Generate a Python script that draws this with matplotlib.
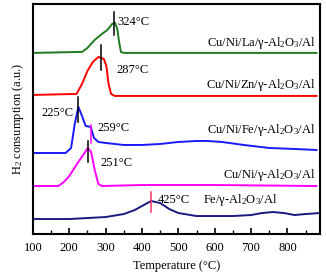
import matplotlib
matplotlib.use("Agg")
import matplotlib.pyplot as plt

plt.rcParams['font.family'] = ['Liberation Serif', 'DejaVu Serif']
plt.rcParams['mathtext.default'] = 'regular'

# Fe/γ-Al2O3/Al
fe_x = [100, 150, 200, 250, 300, 350, 380, 400, 425, 450, 475, 500, 550, 600, 650, 700, 730, 760, 790, 820, 850, 890]
fe_y = [15, 15, 15, 16, 17, 20, 24, 28, 33, 31, 25, 21, 18, 18, 18, 19, 21, 22, 21, 19, 20, 21]

# Cu/Ni/γ-Al2O3/Al
cuni_x = [100, 170, 185, 200, 225, 240, 251, 260, 270, 280, 290, 400, 600, 880]
cuni_y = [48, 48, 52, 58, 72, 80, 86, 82, 64, 50, 48, 49, 49, 48]

# Cu/Ni/Fe/γ-Al2O3/Al
cunife_x = [100, 190, 205, 215, 225, 235, 245, 259, 268, 280, 300, 350, 400, 450, 500, 550, 580, 620, 680, 750, 820, 880]
cunife_y = [81, 81, 86, 110, 127, 118, 108, 107, 96, 92, 91, 89, 89, 90, 92, 93, 93, 92, 89, 86, 85, 84]

# Cu/Ni/Zn/γ-Al2O3/Al
cunizn_x = [100, 220, 235, 250, 265, 280, 295, 302, 308, 315, 325, 880]
cunizn_y = [139, 140, 150, 163, 172, 177, 175, 168, 150, 140, 138, 138]

# Cu/Ni/La/γ-Al2O3/Al
cunila_x = [100, 235, 250, 270, 290, 305, 318, 326, 332, 337, 342, 350, 880]
cunila_y = [181, 182, 186, 194, 200, 204, 210, 211, 205, 192, 182, 181, 181]

series = [
    (fe_x, fe_y, '#1a1a80'),
    (cuni_x, cuni_y, '#ff00ff'),
    (cunife_x, cunife_y, '#1a1aff'),
    (cunizn_x, cunizn_y, '#ff0000'),
    (cunila_x, cunila_y, '#1f7a1f'),
]

# peak markers: (x, y_bottom, y_top, color)
markers = [
    (324, 199, 222, 'black'),
    (287, 164, 189, 'black'),
    (225, 112, 137, 'black'),
    (259, 91, 109, 'magenta'),
    (251, 72, 93, 'black'),
    (425, 22, 42, '#ff3366'),
]

peak_labels = [
    (332, 212, '324°C'),
    (330, 164, '287°C'),
    (123, 121, '225°C'),
    (277, 106, '259°C'),
    (285, 71, '251°C'),
    (443, 34, '425°C'),
]

names = [
    (0.985, 191, 'Cu/Ni/La/γ-Al$_2$O$_3$/Al'),
    (0.985, 149, 'Cu/Ni/Zn/γ-Al$_2$O$_3$/Al'),
    (0.985, 104, 'Cu/Ni/Fe/γ-Al$_2$O$_3$/Al'),
    (0.985, 59, 'Cu/Ni/γ-Al$_2$O$_3$/Al'),
    (0.85, 34, 'Fe/γ-Al$_2$O$_3$/Al'),
]

fig = plt.figure(figsize=(3.26, 2.76), dpi=100)
ax = fig.add_axes([0.101, 0.152, 0.881, 0.834])

for x, y, c in series:
    ax.plot(x, y, color=c, lw=1.4)

for x, y0, y1, c in markers:
    ax.plot([x, x], [y0, y1], color=c, lw=1.1)

for x, y, t in peak_labels:
    ax.text(x, y, t, fontsize=9, ha='left', va='center')

for xf, y, t in names:
    ax.text(xf, y, t, fontsize=9, ha='right', va='center',
            transform=ax.get_yaxis_transform())

ax.set_xlim(100, 890)
ax.set_ylim(0, 230)
ax.set_xticks([100, 200, 300, 400, 500, 600, 700, 800])
ax.set_xticks(range(150, 900, 100), minor=True)
ax.set_yticks([])
ax.tick_params(axis='x', which='major', direction='in', length=4, width=1.2, labelsize=9, pad=6)
ax.tick_params(axis='x', which='minor', direction='in', length=3, width=1.0)
for s in ax.spines.values():
    s.set_linewidth(1.5)

ax.set_xlabel('Temperature (°C)', fontsize=9, labelpad=4)
ax.set_ylabel('H$_2$ consumption (a.u.)', fontsize=9, labelpad=5)

fig.savefig('out.png', dpi=100)
